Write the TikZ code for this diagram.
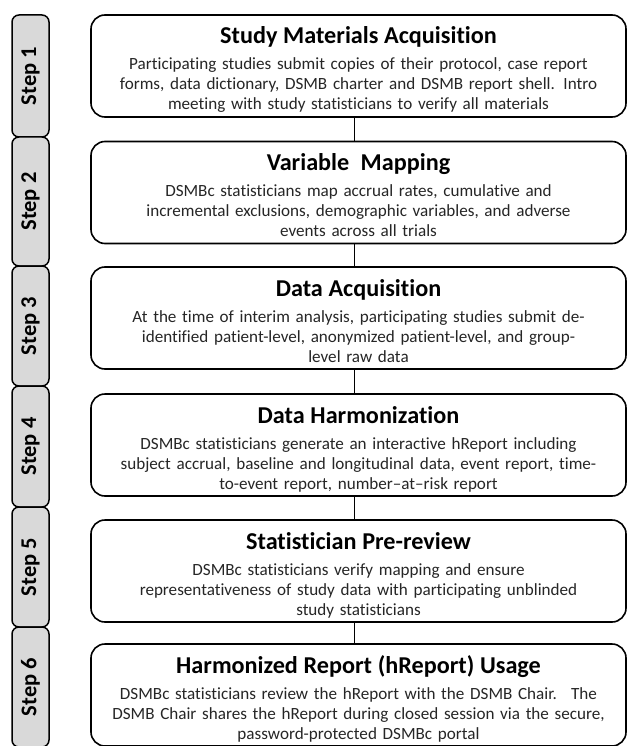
\documentclass[tikz,border=0pt]{standalone}
\usepackage{fontspec}
\setmainfont{Carlito}[Ligatures={TeX,NoCommon}]

\definecolor{tabfill}{HTML}{D9D9D9}
\definecolor{bodytext}{HTML}{262626}

% heading line of a stage box
\newcommand{\stagehead}[1]{\rule{0pt}{27pt}{\fontsize{24.2}{26}\selectfont\bfseries\color{black}#1}\\[6pt]}
\newcommand{\stageend}{\rule[-5pt]{0pt}{5pt}}

\tikzset{
  stagebox/.style={draw, line width=1.6pt, rounded corners=14pt, fill=white,
    minimum width=535pt, minimum height=102pt, text width=533pt, align=center,
    inner sep=0pt, text=bodytext, font=\fontsize{17.1}{20}\selectfont},
  steptab/.style={draw, line width=1.5pt, rounded corners=7pt, fill=tabfill,
    minimum height=37pt, rotate=90, inner sep=0pt,
    font=\bfseries\fontsize{22.5}{24}\selectfont},
  link/.style={line width=1.6pt}
}

\begin{document}
\begin{tikzpicture}[x=1pt,y=-1pt]
  \clip (0,0) rectangle (627,746);

  % step tabs on the left
  \foreach \n/\yc/\h in {1/76/122,2/201.5/129,3/326/120,4/446.5/121,5/567/120,6/687/120}
    \node[steptab, minimum width=\h*1pt] (tab\n) at (30.5,\yc) {Step \n};

  % stage boxes
  \node[stagebox] (s1) at (358.5,66) {\stagehead{Study Materials Acquisition}Participating studies submit copies of their protocol, case report\\forms, data dictionary, DSMB charter and DSMB report shell. Intro\\meeting with study statisticians to verify all materials\stageend};
  \node[stagebox] (s2) at (358.5,192.5) {\stagehead{Variable~ Mapping}DSMBc statisticians map accrual rates, cumulative and\\incremental exclusions, demographic variables, and adverse\\events across all trials\stageend};
  \node[stagebox] (s3) at (358.5,318) {\stagehead{Data Acquisition}At the time of interim analysis, participating studies submit de-\\identified patient-level, anonymized patient-level, and group-\\level raw data\stageend};
  \node[stagebox] (s4) at (358.5,445) {\stagehead{Data Harmonization}DSMBc statisticians generate an interactive hReport including\\subject accrual, baseline and longitudinal data, event report, time-\\to-event report, number--at--risk report\stageend};
  \node[stagebox] (s5) at (358.5,571) {\stagehead{Statistician Pre-review}DSMBc statisticians verify mapping and ensure\\representativeness of study data with participating unblinded\\study statisticians\stageend};
  \node[stagebox] (s6) at (358.5,695) {\stagehead{Harmonized Report (hReport) Usage}DSMBc statisticians review the hReport with the DSMB Chair.~ The\\DSMB Chair shares the hReport during closed session via the secure,\\password-protected DSMBc portal\stageend};

  \foreach \a/\b in {s1/s2,s2/s3,s3/s4,s4/s5,s5/s6}
    \draw[link] ([xshift=-4pt]\a.south) -- ([xshift=-4pt]\b.north);
\end{tikzpicture}
\end{document}
